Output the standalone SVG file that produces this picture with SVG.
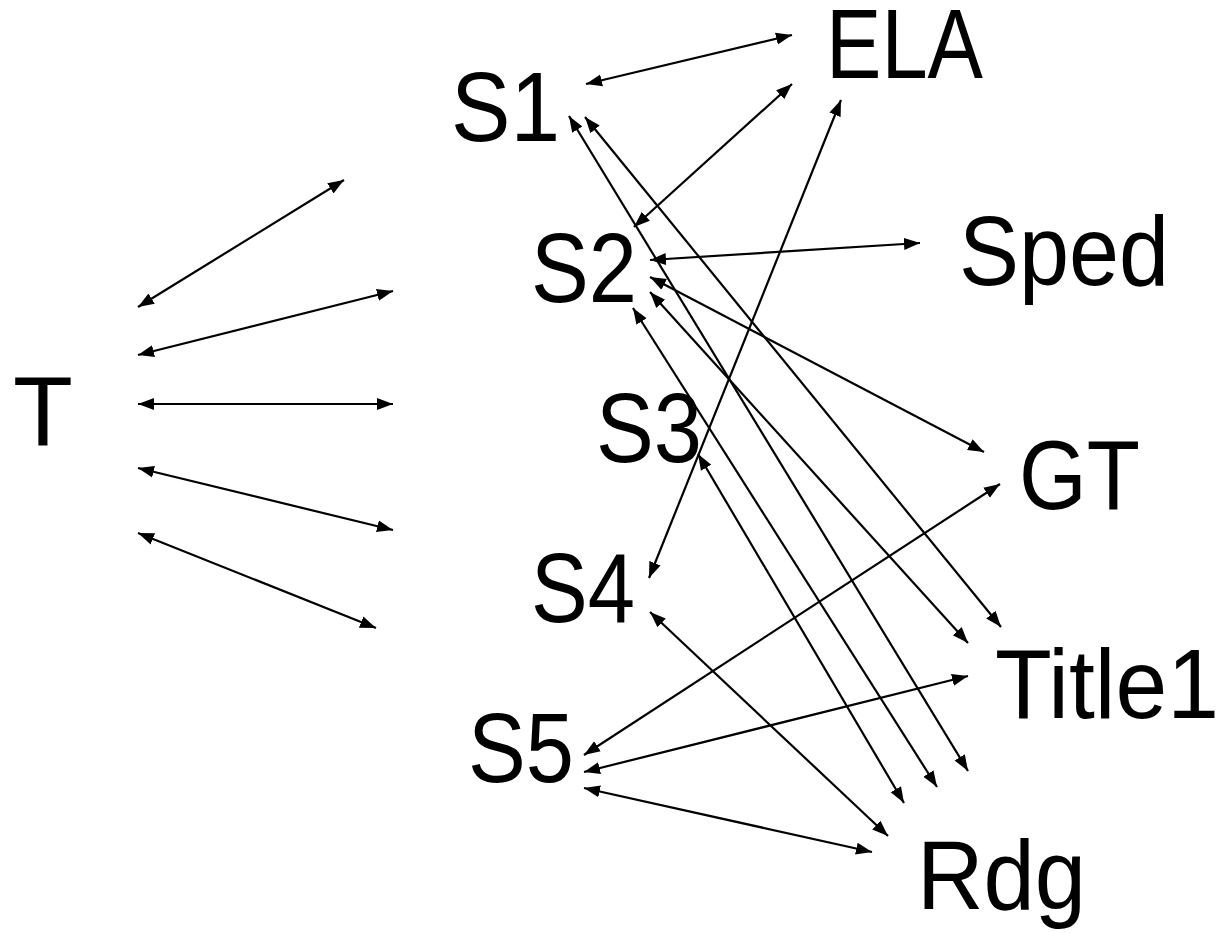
<svg xmlns="http://www.w3.org/2000/svg" width="1222" height="933" viewBox="0 0 1222 933">
<defs>
<marker id="ah" markerUnits="userSpaceOnUse" markerWidth="17" markerHeight="13" viewBox="0 0 17 13" refX="16" refY="6.5" orient="auto-start-reverse">
<path d="M0,0.5 L16,6.5 L0,12.5 z" fill="#000"/>
</marker>
<style>
.lbl{font-family:"Liberation Sans",Arial,sans-serif;font-size:98px;fill:#000}
.c line{stroke:#000;stroke-width:2.2;marker-start:url(#ah);marker-end:url(#ah)}
</style>
</defs>
<rect width="1222" height="933" fill="#fff"/>
<g id="connectors" class="c">
<line x1="138" y1="307" x2="344" y2="180"/>
<line x1="138" y1="355" x2="393" y2="291"/>
<line x1="138" y1="404" x2="393" y2="404"/>
<line x1="138" y1="468" x2="393" y2="530"/>
<line x1="138" y1="533" x2="376" y2="628"/>
<line x1="586" y1="84" x2="792" y2="35"/>
<line x1="634" y1="227" x2="792" y2="84"/>
<line x1="649" y1="578" x2="841" y2="100"/>
<line x1="569" y1="116" x2="968" y2="771"/>
<line x1="585" y1="117" x2="1001" y2="627"/>
<line x1="650" y1="260" x2="920" y2="243"/>
<line x1="650" y1="277" x2="984" y2="452"/>
<line x1="650" y1="292" x2="968" y2="643"/>
<line x1="633" y1="308" x2="937" y2="787"/>
<line x1="698" y1="454" x2="904" y2="803"/>
<line x1="650" y1="612" x2="888" y2="836"/>
<line x1="584" y1="755" x2="1000" y2="484"/>
<line x1="584" y1="772" x2="968" y2="676"/>
<line x1="584" y1="788" x2="872" y2="852"/>
</g>
<g id="T"><text class="lbl" x="13" y="445">T</text></g>
<g id="S1"><text class="lbl" x="451" y="141" textLength="109" lengthAdjust="spacingAndGlyphs">S1</text></g>
<g id="S2"><text class="lbl" x="531" y="302" textLength="106" lengthAdjust="spacingAndGlyphs">S2</text></g>
<g id="S3"><text class="lbl" x="596" y="462" textLength="106" lengthAdjust="spacingAndGlyphs">S3</text></g>
<g id="S4"><text class="lbl" x="531" y="622" textLength="104" lengthAdjust="spacingAndGlyphs">S4</text></g>
<g id="S5"><text class="lbl" x="468" y="782" textLength="106" lengthAdjust="spacingAndGlyphs">S5</text></g>
<g id="ELA"><text class="lbl" x="826" y="78" textLength="157" lengthAdjust="spacingAndGlyphs">ELA</text></g>
<g id="Sped"><text class="lbl" x="959" y="285" textLength="210" lengthAdjust="spacingAndGlyphs">Sped</text></g>
<g id="GT"><text class="lbl" x="1019" y="509" textLength="121" lengthAdjust="spacingAndGlyphs">GT</text></g>
<g id="Title1"><text class="lbl" x="995" y="718" textLength="224" lengthAdjust="spacingAndGlyphs">Title1</text></g>
<g id="Rdg"><text class="lbl" x="917" y="909" textLength="169" lengthAdjust="spacingAndGlyphs">Rdg</text></g>
</svg>
